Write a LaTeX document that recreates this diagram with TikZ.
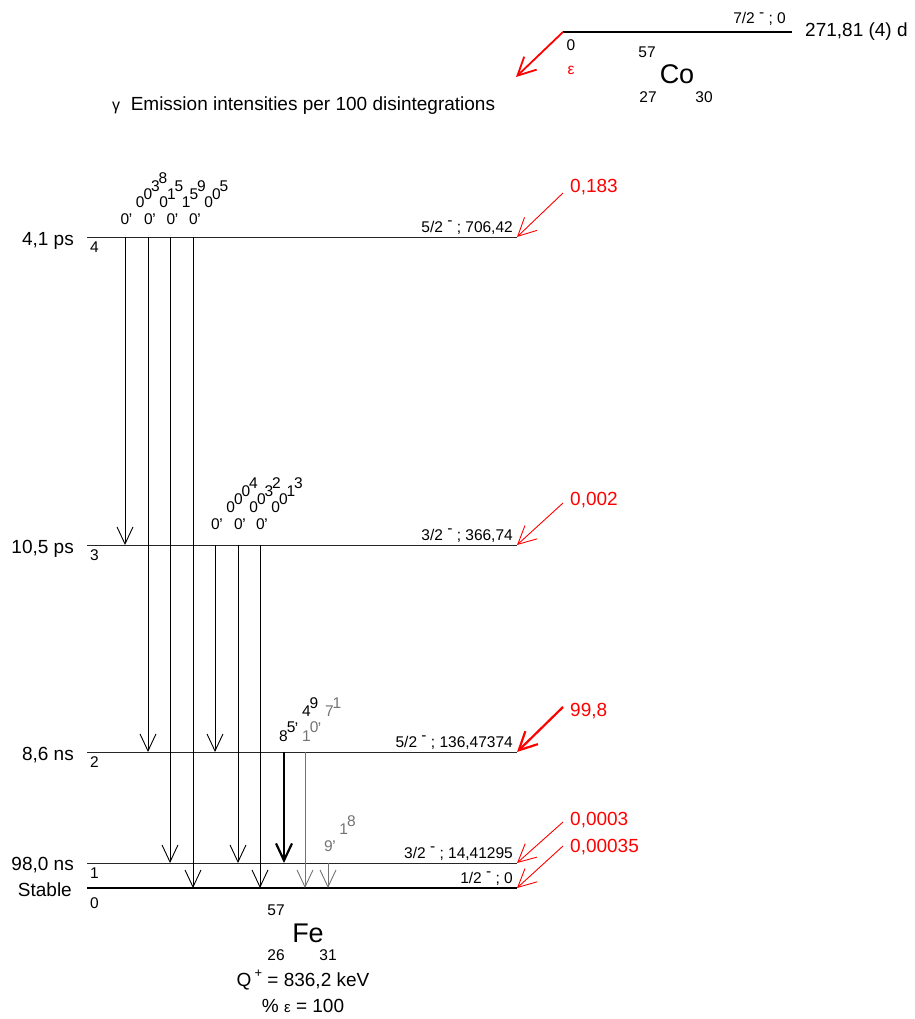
\documentclass[tikz,border=0pt]{standalone}
\usepackage{fontspec}
\setmainfont{Liberation Sans}
\usepackage{tikz}
\usetikzlibrary{arrows.meta,calc}
\definecolor{feedred}{RGB}{255,0,0}
\definecolor{weakgrey}{RGB}{115,115,115}
\newcommand\spinneg{\ \raisebox{0.42em}{-} ; }
\tikzset{
  lvl/.style ={line width=1pt, draw=black!85},
  gam/.style ={-{Straight Barb[length=17pt,width=16pt]}, line width=0.9pt},
  feed/.style={-{Straight Barb[length=18pt,width=18pt]}, line width=0.9pt, draw=feedred},
  big/.style ={font=\fontsize{19}{20}\selectfont, inner sep=0pt},
  sml/.style ={font=\fontsize{15.5}{16}\selectfont, inner sep=0pt},
  elem/.style={font=\fontsize{27}{28}\selectfont, inner sep=0pt},
  dig/.style ={font=\fontsize{15.5}{16}\selectfont, inner sep=0pt, anchor=base west}
}

\begin{document}
\begin{tikzpicture}[x=1pt, y=-1pt]
  \useasboundingbox (0,0) rectangle (914,1019);
  \coordinate (co0) at (563,32);
  \coordinate (co1) at (600,32);
  \coordinate (co2) at (792,32);
  \coordinate (coeps) at (516,77);
  \draw[line width=1.3pt] (co0) -- (co1);
  \draw[line width=2.6pt] (co1) -- (co2);
  \draw[feed, line width=1.8pt] (co0) -- (coeps);
  \node[sml, anchor=base east] (cospin) at (786,24) {7/2\spinneg0};
  \node[big, anchor=west] (cohalf) at (805,32) {271,81 (4) d};
  \node[sml] (colev) at (571,45) {0};
  \node[sml, text=feedred] (eps) at (571,70) {ε};
  \node[sml] (coA) at (647,52) {57};
  \node[elem] (co) at (677,74) {Co};
  \node[sml] (coZ) at (648,97) {27};
  \node[sml] (coN) at (704,97) {30};
  \node[big, anchor=base west] (title) at (112,111) {{\fontsize{16}{16}\selectfont γ}\;\;Emission intensities per 100 disintegrations};

  \coordinate (L4) at (87,237);  \coordinate (L4e) at (517,237);
  \coordinate (L3) at (87,545);  \coordinate (L3e) at (517,545);
  \coordinate (L2) at (87,752);  \coordinate (L2e) at (517,752);
  \coordinate (L1) at (87,863);  \coordinate (L1e) at (517,863);
  \coordinate (L0) at (87,888);  \coordinate (L0e) at (517,888);
  \draw[lvl] (L4) -- (L4e);
  \draw[lvl] (L3) -- (L3e);
  \draw[lvl] (L2) -- (L2e);
  \draw[lvl] (L1) -- (L1e);
  \draw[line width=2.4pt] (L0) -- (L0e);

  \node[big, anchor=base east] (t4) at (74,245) {4,1 ps};
  \node[big, anchor=base east] (t3) at (74,553) {10,5 ps};
  \node[big, anchor=base east] (t2) at (74,760) {8,6 ns};
  \node[big, anchor=base east] (t1) at (74,870) {98,0 ns};
  \node[big, anchor=base east] (t0) at (72,896) {Stable};
  \node[sml, anchor=base west] (n4) at (90,252) {4};
  \node[sml, anchor=base west] (n3) at (90,560) {3};
  \node[sml, anchor=base west] (n2) at (90,767) {2};
  \node[sml, anchor=base west] (n1) at (90,878) {1};
  \node[sml, anchor=base west] (n0) at (90,908) {0};
  \node[sml, anchor=base east] (s4) at (513,232) {5/2\spinneg706,42};
  \node[sml, anchor=base east] (s3) at (513,540) {3/2\spinneg366,74};
  \node[sml, anchor=base east] (s2) at (513,747) {5/2\spinneg136,47374};
  \node[sml, anchor=base east] (s1) at (513,858) {3/2\spinneg14,41295};
  \node[sml, anchor=base east] (s0) at (513,883) {1/2\spinneg0};

  \node[big, text=feedred, anchor=base west] (f4) at (570,193) {0,183};
  \node[big, text=feedred, anchor=base west] (f3) at (570,505) {0,002};
  \node[big, text=feedred, anchor=base west] (f2) at (570,716) {99,8};
  \node[big, text=feedred, anchor=base west] (f1) at (570,825) {0,0003};
  \node[big, text=feedred, anchor=base west] (f0) at (570,852) {0,00035};
  \coordinate (fs4) at (563,193);
  \coordinate (fs3) at (563,503);
  \coordinate (fs2) at (563,707);
  \coordinate (fs1) at (563,822);
  \coordinate (fs0) at (563,846);
  \draw[feed] (fs4) -- (L4e);
  \draw[feed] (fs3) -- (L3e);
  \draw[feed, line width=2.2pt] (fs2) -- (L2e);
  \draw[feed] (fs1) -- (L1e);
  \draw[feed] (fs0) -- (L0e);

  \draw[gam] (125,0 |- L4) -- (125,0 |- L3);
  \draw[gam] (148,0 |- L4) -- (148,0 |- L2);
  \draw[gam] (170,0 |- L4) -- (170,0 |- L1);
  \draw[gam] (193,0 |- L4) -- (193,0 |- L0);
  \draw[gam] (215,0 |- L3) -- (215,0 |- L2);
  \draw[gam] (238,0 |- L3) -- (238,0 |- L1);
  \draw[gam] (260,0 |- L3) -- (260,0 |- L0);
  \draw[gam, line width=2.2pt] (284,0 |- L2) -- (284,0 |- L1);
  \draw[gam, draw=weakgrey] (305,0 |- L2) -- (305,0 |- L0);
  \draw[gam, draw=weakgrey] (328,0 |- L1) -- (328,0 |- L0);

  \coordinate (g43) at (120.5,224);
  \coordinate (g42) at (144,224);
  \coordinate (g41) at (166.5,224);
  \coordinate (g40) at (189,224);
  \coordinate (g32) at (211,529);
  \coordinate (g31) at (234,529);
  \coordinate (g30) at (256,529);
  \coordinate (g21) at (279,741);
  \coordinate (g20) at (302,741);
  \coordinate (g10) at (324,851);
  \foreach \ch [count=\k from 0] in {0,{,},0,0,3,8}
    \node[dig] (g43-\k) at ($(g43)+(7.6*\k,-8.2*\k)$) {\ch};
  \foreach \ch [count=\k from 0] in {0,{,},0,1,5}
    \node[dig] (g42-\k) at ($(g42)+(7.6*\k,-8.2*\k)$) {\ch};
  \foreach \ch [count=\k from 0] in {0,{,},1,5,9}
    \node[dig] (g41-\k) at ($(g41)+(7.6*\k,-8.2*\k)$) {\ch};
  \foreach \ch [count=\k from 0] in {0,{,},0,0,5}
    \node[dig] (g40-\k) at ($(g40)+(7.6*\k,-8.2*\k)$) {\ch};
  \foreach \ch [count=\k from 0] in {0,{,},0,0,0,4}
    \node[dig] (g32-\k) at ($(g32)+(7.6*\k,-8.2*\k)$) {\ch};
  \foreach \ch [count=\k from 0] in {0,{,},0,0,3,2}
    \node[dig] (g31-\k) at ($(g31)+(7.6*\k,-8.2*\k)$) {\ch};
  \foreach \ch [count=\k from 0] in {0,{,},0,0,1,3}
    \node[dig] (g30-\k) at ($(g30)+(7.6*\k,-8.2*\k)$) {\ch};
  \foreach \ch [count=\k from 0] in {8,5,{,},4,9}
    \node[dig] (g21-\k) at ($(g21)+(7.6*\k,-8.2*\k)$) {\ch};
  \foreach \ch [count=\k from 0] in {1,0,{,},7,1}
    \node[dig, text=weakgrey] (g20-\k) at ($(g20)+(7.6*\k,-8.2*\k)$) {\ch};
  \foreach \ch [count=\k from 0] in {9,{,},1,8}
    \node[dig, text=weakgrey] (g10-\k) at ($(g10)+(7.6*\k,-8.2*\k)$) {\ch};

  \node[sml] (feA) at (276,910) {57};
  \node[elem] (fe) at (308,933) {Fe};
  \node[sml] (feZ) at (276,955) {26};
  \node[sml] (feN) at (328,955) {31};
  \node[big] (qval) at (303,980) {Q\,\raisebox{0.45em}{\fontsize{13}{13}\selectfont +} = 836,2 keV};
  \node[big] (pct) at (303,1006) {\% {\fontsize{15}{15}\selectfont ε} = 100};
\end{tikzpicture}
\end{document}
